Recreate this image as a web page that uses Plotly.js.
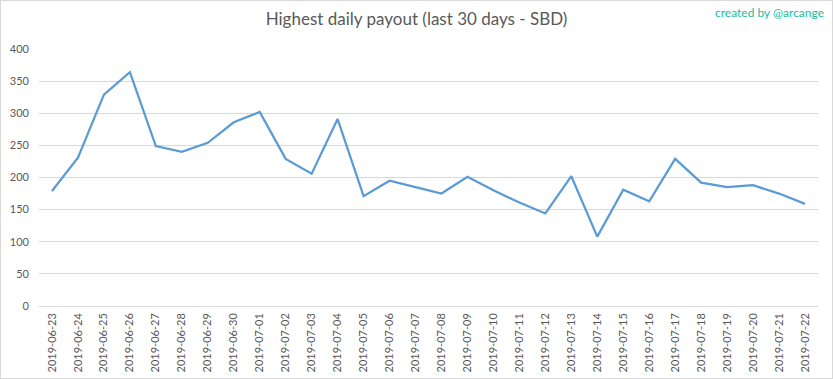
<!DOCTYPE html>
<html>
<head>
<meta charset="utf-8">
<script src="https://cdn.plot.ly/plotly-3.0.1.min.js"></script>
<style>
  html, body { margin: 0; padding: 0; background: #fff; }
  #chart { width: 833px; height: 379px; box-sizing: border-box; border: 1px solid #d9d9d9; }
</style>
</head>
<body>
<div id="chart"></div>
<script>
const dates = [
  "2019-06-23","2019-06-24","2019-06-25","2019-06-26","2019-06-27","2019-06-28","2019-06-29","2019-06-30",
  "2019-07-01","2019-07-02","2019-07-03","2019-07-04","2019-07-05","2019-07-06","2019-07-07","2019-07-08",
  "2019-07-09","2019-07-10","2019-07-11","2019-07-12","2019-07-13","2019-07-14","2019-07-15","2019-07-16",
  "2019-07-17","2019-07-18","2019-07-19","2019-07-20","2019-07-21","2019-07-22"
];
const payout = [
  179, 231, 329, 364, 249, 240, 254, 286,
  302, 229, 206, 291, 171, 195, 185, 175,
  201, 180, 161, 144, 202, 108, 181, 163,
  229, 192, 185, 188, 175, 159
];
const yTicks = [0, 50, 100, 150, 200, 250, 300, 350, 400];
const titleText = "Highest daily payout (last 30 days - SBD)";
const creditText = "created by @arcange";

const FONT = "Lato, 'Open Sans', sans-serif";

const trace = {
  x: dates,
  y: payout,
  type: "scatter",
  mode: "lines",
  line: { color: "#5B9BD5", width: 2.25 },
  hoverinfo: "x+y"
};

const layout = {
  width: 831,
  height: 377,
  margin: { l: 38, r: 14, t: 48, b: 72 },
  paper_bgcolor: "#ffffff",
  plot_bgcolor: "#ffffff",
  showlegend: false,
  font: { family: FONT, color: "#595959", size: 11 },
  title: {
    text: titleText,
    font: { family: FONT, size: 17, color: "#595959" },
    x: 0.5, xanchor: "center",
    y: 0.967, yanchor: "top", yref: "container"
  },
  xaxis: {
    type: "category",
    range: [-0.5, dates.length - 0.5],
    tickangle: -90,
    showgrid: false,
    showline: false,
    zeroline: false,
    ticks: "",
    ticklabelstandoff: 4,
    tickfont: { family: FONT, size: 11, color: "#595959" },
    fixedrange: true
  },
  yaxis: {
    range: [0, 400],
    tickvals: yTicks,
    ticktext: yTicks.map(String),
    showgrid: true,
    gridcolor: "#d9d9d9",
    gridwidth: 1,
    zeroline: true,
    zerolinecolor: "#d9d9d9",
    zerolinewidth: 1,
    showline: false,
    ticks: "",
    ticklabelstandoff: 9,
    tickfont: { family: FONT, size: 11, color: "#595959" },
    fixedrange: true
  },
  annotations: [{
    text: creditText,
    xref: "paper", yref: "paper",
    x: 1.01, y: 1.143,
    xanchor: "right", yanchor: "middle",
    showarrow: false,
    font: { family: FONT, size: 12, color: "#1ABC9C" }
  }]
};

Plotly.newPlot("chart", [trace], layout, { displayModeBar: false, staticPlot: true });
</script>
</body>
</html>
